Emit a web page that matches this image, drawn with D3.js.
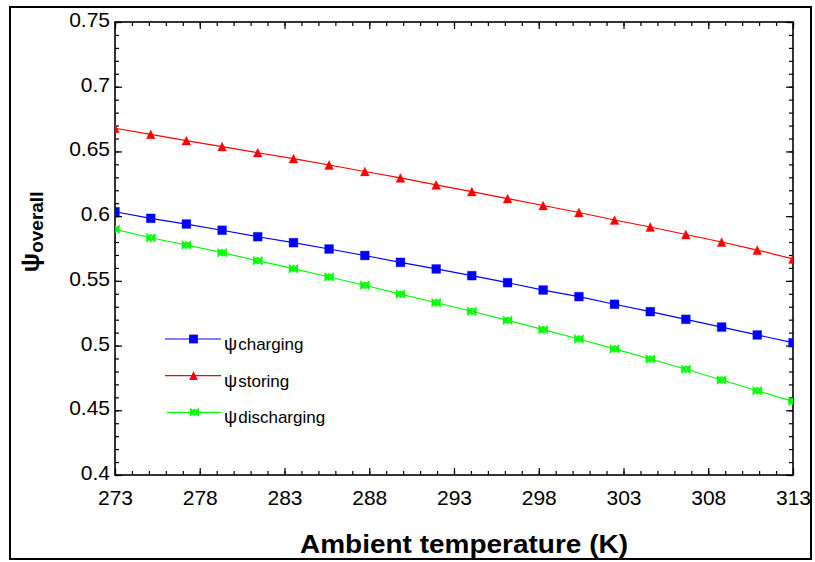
<!DOCTYPE html>
<html>
<head>
<meta charset="utf-8">
<script src="https://cdn.jsdelivr.net/npm/d3@7"></script>
<style>
  html, body { margin: 0; padding: 0; background: #fff; }
  svg { display: block; font-family: "Liberation Sans", Arial, sans-serif; }
</style>
</head>
<body>
<svg id="chart" width="815" height="562"></svg>
<script>
// ---- data ----
const temps = [273, 275.11, 277.21, 279.32, 281.42, 283.53, 285.63, 287.74, 289.84, 291.95,
               294.05, 296.16, 298.26, 300.37, 302.47, 304.58, 306.68, 308.79, 310.89, 313];
const charging = [0.6034, 0.5983, 0.5939, 0.5891, 0.5841, 0.5795, 0.5746, 0.5696, 0.5643, 0.5592,
                  0.5540, 0.5486, 0.5429, 0.5378, 0.5319, 0.5262, 0.5203, 0.5143, 0.5082, 0.5022];
const storing = [0.6679, 0.6632, 0.6583, 0.6537, 0.6490, 0.6444, 0.6395, 0.6345, 0.6295, 0.6241,
                 0.6190, 0.6136, 0.6082, 0.6028, 0.5970, 0.5916, 0.5858, 0.5800, 0.5738, 0.5669];
const discharging = [0.5898, 0.5833, 0.5777, 0.5718, 0.5656, 0.5594, 0.5530, 0.5466, 0.5398, 0.5331,
                     0.5265, 0.5195, 0.5123, 0.5051, 0.4974, 0.4896, 0.4817, 0.4734, 0.4651, 0.4569];
const xTicks = [273, 278, 283, 288, 293, 298, 303, 308, 313];
const xMinorTicks = [273,274,275,276,277,278,279,280,281,282,283,284,285,286,287,288,289,290,291,292,293,
                     294,295,296,297,298,299,300,301,302,303,304,305,306,307,308,309,310,311,312,313];
const yTicks = [0.4, 0.45, 0.5, 0.55, 0.6, 0.65, 0.7, 0.75];
const yMinorTicks = [0.40,0.41,0.42,0.43,0.44,0.45,0.46,0.47,0.48,0.49,0.50,0.51,0.52,0.53,0.54,0.55,0.56,0.57,
                     0.58,0.59,0.60,0.61,0.62,0.63,0.64,0.65,0.66,0.67,0.68,0.69,0.70,0.71,0.72,0.73,0.74,0.75];
const seriesNames = ["charging", "storing", "discharging"];
const seriesColors = ["#0000ff", "#ff0000", "#00ff00"];
const seriesValues = [charging, storing, discharging];
const seriesMarkers = ["square", "triangle", "bowtie"];

// ---- layout ----
const svg = d3.select("#chart");
const L = 115, R = 793, T = 22, B = 475;
const x = d3.scaleLinear().domain([273, 313]).range([L, R]);
const y = d3.scaleLinear().domain([0.4, 0.75]).range([B, T]);

// outer frame
svg.append("rect").attr("x", 10).attr("y", 7).attr("width", 801).attr("height", 552)
  .attr("fill", "none").attr("stroke", "#000").attr("stroke-width", 2);

svg.append("defs").append("clipPath").attr("id", "clip")
  .append("rect").attr("x", L).attr("y", T).attr("width", R - L).attr("height", B - T);

const fontSize = 21;
function styleAxis(g) {
  g.select(".domain").remove();
  g.selectAll("line").attr("stroke", "#000").attr("stroke-width", 1.2);
}

// minor ticks
svg.append("g").attr("transform", `translate(0,${B})`)
  .call(d3.axisBottom(x).tickValues(xMinorTicks).tickSize(-4).tickFormat(""))
  .call(styleAxis);
svg.append("g").attr("transform", `translate(0,${T})`)
  .call(d3.axisTop(x).tickValues(xMinorTicks).tickSize(-4).tickFormat(""))
  .call(styleAxis);
svg.append("g").attr("transform", `translate(${L},0)`)
  .call(d3.axisLeft(y).tickValues(yMinorTicks).tickSize(-4).tickFormat(""))
  .call(styleAxis);
svg.append("g").attr("transform", `translate(${R},0)`)
  .call(d3.axisRight(y).tickValues(yMinorTicks).tickSize(-4).tickFormat(""))
  .call(styleAxis);

// major ticks + labels
const gx = svg.append("g").attr("transform", `translate(0,${B})`)
  .call(d3.axisBottom(x).tickValues(xTicks).tickSize(-7).tickFormat(d3.format("d")))
  .call(styleAxis);
gx.selectAll("text").attr("y", 30).attr("dy", 0)
  .attr("font-size", fontSize).attr("font-family", "Liberation Sans, Arial, sans-serif").attr("fill", "#000");

svg.append("g").attr("transform", `translate(0,${T})`)
  .call(d3.axisTop(x).tickValues(xTicks).tickSize(-7).tickFormat(""))
  .call(styleAxis);

const gy = svg.append("g").attr("transform", `translate(${L},0)`)
  .call(d3.axisLeft(y).tickValues(yTicks).tickSize(-7).tickFormat(d => String(+d.toFixed(2))))
  .call(styleAxis);
gy.selectAll("text").attr("x", -5).attr("dy", 0).attr("y", 4.5)
  .attr("font-size", fontSize).attr("font-family", "Liberation Sans, Arial, sans-serif").attr("fill", "#000");

svg.append("g").attr("transform", `translate(${R},0)`)
  .call(d3.axisRight(y).tickValues(yTicks).tickSize(-7).tickFormat(""))
  .call(styleAxis);

// plot frame
svg.append("rect").attr("x", L).attr("y", T).attr("width", R - L).attr("height", B - T)
  .attr("fill", "none").attr("stroke", "#000").attr("stroke-width", 1.6);

// markers
function markerPath(type, s) {
  const h = s / 2;
  if (type === "square") return `M${-h},${-h}H${h}V${h}H${-h}Z`;
  if (type === "triangle") return `M0,${-h}L${h},${h}L${-h},${h}Z`;
  // bowtie: two triangles pointing at each other horizontally, with a centre bar
  return `M${-h},${-h}L0,-1L0,1L${-h},${h}Z M${h},${-h}L0,-1L0,1L${h},${h}Z M-1.2,${-h * 0.75}H1.2V${h * 0.75}H-1.2Z`;
}

const plot = svg.append("g").attr("clip-path", "url(#clip)");
const line = d3.line().x((d, i) => x(temps[i])).y(d => y(d));

seriesValues.forEach((vals, k) => {
  plot.append("path").datum(vals).attr("d", line)
    .attr("fill", "none").attr("stroke", seriesColors[k]).attr("stroke-width", 1.2);
  plot.selectAll(null).data(vals).enter().append("path")
    .attr("transform", (d, i) => `translate(${x(temps[i])},${y(d)})`)
    .attr("d", markerPath(seriesMarkers[k], seriesMarkers[k] === "bowtie" ? 9 : 8.8))
    .attr("fill", seriesColors[k])
    .attr("stroke", seriesColors[k]).attr("stroke-width", 0.6).attr("stroke-opacity", 0.6);
});

// legend
const legendY = [339, 375.7, 412.3];
const legendX0 = [165, 165, 167];
seriesNames.forEach((name, k) => {
  const g = svg.append("g");
  g.append("line").attr("x1", legendX0[k]).attr("x2", 221).attr("y1", legendY[k]).attr("y2", legendY[k])
    .attr("stroke", seriesColors[k]).attr("stroke-width", 1.2);
  g.append("path").attr("transform", `translate(${(legendX0[k] + 221) / 2 + 0.5},${legendY[k]})`)
    .attr("d", markerPath(seriesMarkers[k], seriesMarkers[k] === "bowtie" ? 9 : 8.8))
    .attr("fill", seriesColors[k]);
  const t = g.append("text").attr("x", 224).attr("y", legendY[k] + 11)
    .attr("font-size", 17).attr("fill", "#000");
  t.append("tspan").text("ψ").attr("font-size", 18.5);
  t.append("tspan").text(name).attr("dx", 1);
});

// axis titles
svg.append("text").attr("x", 300).attr("y", 553)
  .attr("font-size", 25).attr("font-weight", "bold").attr("fill", "#000")
  .attr("textLength", 328).attr("lengthAdjust", "spacingAndGlyphs")
  .text("Ambient temperature (K)");

const yt = svg.append("text").attr("transform", "translate(43,232) rotate(-90)")
  .attr("text-anchor", "middle").attr("font-weight", "bold").attr("fill", "#000");
yt.append("tspan").text("ψ").attr("font-size", 26).attr("dy", -4);
yt.append("tspan").text("overall").attr("font-size", 19).attr("dy", 4);
</script>
</body>
</html>
